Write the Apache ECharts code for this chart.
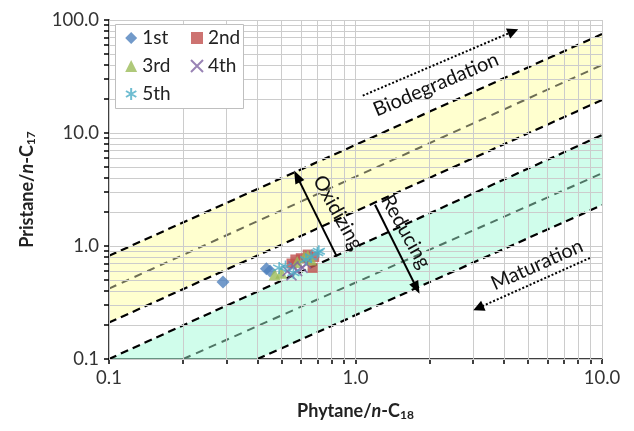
<!DOCTYPE html>
<html><head><meta charset="utf-8">
<script src="https://cdn.jsdelivr.net/npm/echarts@6/dist/echarts.min.js"></script>
<style>html,body{margin:0;padding:0;background:#fff}#c{width:634px;height:431px}</style>
</head><body><div id="c"></div>
<script>
// ---- tick values ----
const xTickValues = [0.1,0.2,0.3,0.4,0.5,0.6,0.7,0.8,0.9,1,2,3,4,5,6,7,8,9,10];
const yTickValues = [0.1,0.2,0.3,0.4,0.5,0.6,0.7,0.8,0.9,1,2,3,4,5,6,7,8,9,10,20,30,40,50,60,70,80,90,100];
const xLabelValues = [0.1,1,10];
const yLabelValues = [0.1,1,10,100];

// ---- series (Phytane/n-C18, Pristane/n-C17) ----
const seriesNames = ['1st','2nd','3rd','4th','5th'];
const legendCol1 = ['1st','3rd','5th'];
const legendCol2 = ['2nd','4th'];
const s1st = [[0.29,0.48],[0.435,0.63],[0.45,0.60]];
const s2nd = [[0.57,0.76],[0.60,0.78],[0.64,0.84],[0.68,0.80],[0.67,0.64],[0.55,0.70]];
const s3rd = [[0.47,0.56],[0.50,0.58],[0.62,0.80],[0.64,0.82],[0.58,0.72],[0.66,0.76]];
const s4th = [[0.53,0.60],[0.55,0.55],[0.58,0.60],[0.61,0.64],[0.56,0.66],[0.63,0.70]];
const s5th = [[0.49,0.64],[0.52,0.66],[0.63,0.76],[0.70,0.87],[0.71,0.90],[0.66,0.80],[0.56,0.58]];

// ---- reference lines ----
const yellowTop = [[0.1,0.82],[10,75]];
const yellowMid = [[0.1,0.42],[10,40]];
const yellowBottom = [[0.1,0.21],[10,19.6]];
const greenTop = [[0.1,0.1],[10,9.6]];
const greenMid = [[0.2,0.1],[10,4.4]];
const greenBottom = [[0.4,0.1],[10,2.3]];

// ---- annotations ----
const oxidizingArrow = [[0.579,4.13],[0.839,0.809]];   // head at first point
const reducingArrow = [[1.2,2.32],[1.77,0.425]];       // head at second point
const biodegArrow = [[1.07,21.4],[4.36,79.3]];         // head at second point
const maturationArrow = [[8.93,0.783],[3.15,0.283]];   // head at second point
const annotTexts = ['Biodegradation','Maturation','Oxidizing','Reducing'];
const annotAnchors = [[2.12,26.8],[5.45,0.683],[0.849,1.97],[1.60,1.34]];
const annotAngles = [23, 24, -61, -61];

const FONT = 'Lato, "Open Sans", sans-serif';
const colors = ['#4F81BD','#C0504D','#9BBB59','#8064A2','#4BACC6'];
const gridCol = '#CCCCCC';

function bandSeries(top, bottom, fill) {
  const verts = top.concat(bottom.slice().reverse());
  return {
    type:'custom', silent:true, z:1, data: verts,
    renderItem: function(params, api){
      if (params.dataIndex !== 0) return null;
      return {type:'polygon', shape:{points: verts.map(v => api.coord(v))}, style:{fill: fill}};
    }
  };
}
function lineSeries(pts, color, width, dash) {
  return {type:'line', data: pts, showSymbol:false, symbol:'none', silent:true, z:3,
    lineStyle:{color: color, width: width, type: dash}};
}
function arrowSeries(pts, headAtStart, dotted) {
  return {type:'line', data: [], silent:true, z:4,
    markLine:{silent:true, animation:false, symbol: headAtStart ? ['triangle','none'] : ['none','triangle'],
      symbolSize: dotted ? [11,11] : [10,13],
      label:{show:false},
      lineStyle:{color:'#000', width:2, type: dotted ? [2,2] : 'solid'},
      data:[[{coord: pts[0]},{coord: pts[1]}]]}};
}

const chart = echarts.init(document.getElementById('c'));
const axisCommon = {
  type:'log', logBase:10,
  axisLine:{show:true, onZero:false, lineStyle:{color:'#000', width:1.5}},
  splitLine:{show:false},
  nameLocation:'middle'
};
const symbols = ['diamond','rect','triangle',
  'path://M0,0L10,10M10,0L0,10',
  'path://M5,0L5,10M0.7,2.5L9.3,7.5M0.7,7.5L9.3,2.5'];
const sizes = [13,10,12,10,12];
const datas = [s1st,s2nd,s3rd,s4th,s5th];

const scatter = seriesNames.map((n,i) => {
  const stroke = i >= 3;
  return {name:n, type:'scatter', data: datas[i], symbol: symbols[i], symbolSize: sizes[i], z:5,
    itemStyle: stroke ? {color:'rgba(0,0,0,0)', borderColor: colors[i], borderWidth:1.6} : {color: colors[i]},
    emphasis:{disabled:true}};
});

const richName = {i:{fontSize:18, fontWeight:'bold', fontStyle:'italic', fontFamily:FONT, color:'#222'},
  s:{fontSize:12, fontWeight:'bold', fontFamily:FONT, color:'#222', verticalAlign:'bottom', padding:[8,0,0,0]}};

const legendCommon = {orient:'vertical', top:28, padding:0, itemGap:8, itemWidth:12, itemHeight:12, z:20,
  textStyle:{fontSize:19, color:'#222', fontFamily:FONT, lineHeight:20}};

const option = {
  animation:false,
  grid:{left:109, right:32, top:20, bottom:72},
  graphic:[{type:'rect', left:115, top:24, z:15, silent:true,
    shape:{width:128, height:84}, style:{fill:'#fff', stroke:'#BFBFBF', lineWidth:1}}],
  xAxis: Object.assign({}, axisCommon, {
    min:0.1, max:10,
    axisTick:{show:true, customValues:xTickValues, length:5, lineStyle:{color:'#000', width:1.5}},
    axisLabel:{customValues:xLabelValues, formatter: v => Number(v).toFixed(1), fontSize:18.5, color:'#333', fontFamily:FONT, margin:10},
    name:'Phytane/{i|n}-C{s|18}', nameGap:42,
    nameTextStyle:{fontSize:18, fontWeight:'bold', color:'#222', fontFamily:FONT, rich:richName}
  }),
  yAxis: Object.assign({}, axisCommon, {
    min:0.1, max:100,
    axisTick:{show:true, customValues:yTickValues, length:5, lineStyle:{color:'#000', width:1.5}},
    axisLabel:{customValues:yLabelValues, formatter: v => Number(v).toFixed(1), fontSize:18.5, color:'#333', fontFamily:FONT, margin:10},
    name:'Pristane/{i|n}-C{s|17}', nameGap:72, nameRotate:90,
    nameTextStyle:{fontSize:18, fontWeight:'bold', color:'#222', fontFamily:FONT, rich:richName}
  }),
  legend:[
    Object.assign({}, legendCommon, {data: legendCol1, left:125}),
    Object.assign({}, legendCommon, {data: legendCol2, left:190})
  ],
  series: [
    {type:'line', data:[], silent:true, z:0,
      markLine:{silent:true, symbol:'none', animation:false, label:{show:false},
        lineStyle:{color:gridCol, width:1, type:'solid'},
        data: xTickValues.map(v => ({xAxis:v})).concat(yTickValues.map(v => ({yAxis:v})))}},
    bandSeries(yellowTop, yellowBottom, 'rgba(255,255,160,0.5)'),
    bandSeries(greenTop, greenBottom, 'rgba(150,250,210,0.45)'),
    lineSeries(yellowTop, '#000', 2.2, [8,5]),
    lineSeries(yellowMid, '#6E6E55', 2, [8,6]),
    lineSeries(yellowBottom, '#000', 2.2, [8,5]),
    lineSeries(greenTop, '#000', 2.2, [8,5]),
    lineSeries(greenMid, '#4F7565', 2, [8,6]),
    lineSeries(greenBottom, '#000', 2.2, [8,5]),
    arrowSeries(oxidizingArrow, true, false),
    arrowSeries(reducingArrow, false, false),
    arrowSeries(biodegArrow, false, true),
    arrowSeries(maturationArrow, false, true),
    {type:'custom', silent:true, z:6, data: annotAnchors,
      renderItem: function(params, api){
        const p = api.coord(annotAnchors[params.dataIndex]);
        return {type:'text', x:p[0], y:p[1], rotation: annotAngles[params.dataIndex]*Math.PI/180,
          style:{text: annotTexts[params.dataIndex], fontSize:20, fontFamily:FONT, fill:'#111', align:'center', verticalAlign:'middle'}};
      }}
  ].concat(scatter)
};
chart.setOption(option);
</script></body></html>
